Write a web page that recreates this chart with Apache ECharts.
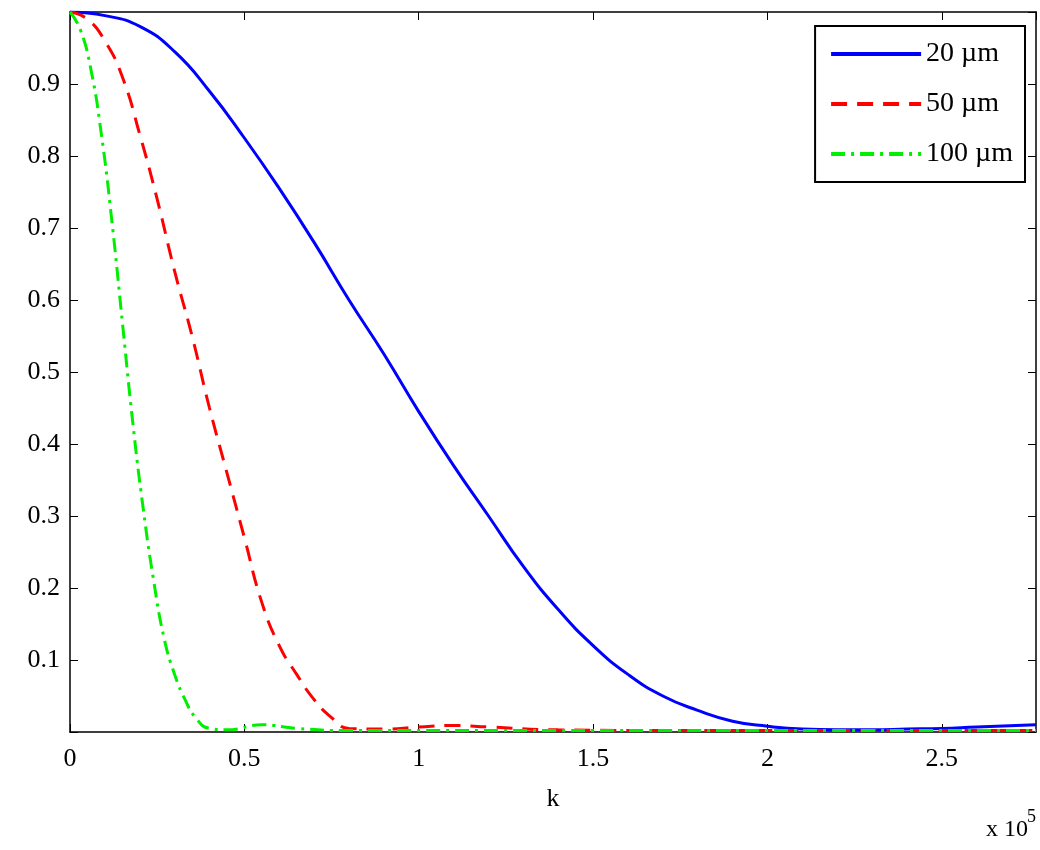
<!DOCTYPE html>
<html><head><meta charset="utf-8">
<script src="https://cdn.jsdelivr.net/npm/echarts@6/dist/echarts.min.js"></script>
<style>html,body{margin:0;background:#fff}#c{width:1040px;height:850px}</style>
</head><body><div id="c"></div>
<script>
const seriesNames = ['20 µm', '50 µm', '100 µm'];
const blue = [[0,1],[0.1,0.995],[0.2,0.98],[0.3,0.945],[0.4,0.89],[0.5,0.825],[0.6,0.755],[0.7,0.68],[0.8,0.6],[0.9,0.525],[1.0,0.445],[1.1,0.37],[1.2,0.3],[1.3,0.23],[1.4,0.17],[1.5,0.12],[1.6,0.08],[1.7,0.05],[1.8,0.03],[1.9,0.015],[2.0,0.008],[2.1,0.004],[2.2,0.003],[2.3,0.003],[2.4,0.004],[2.5,0.005],[2.6,0.007],[2.77,0.01]];
const red = [[0,1],[0.05,0.99],[0.1,0.96],[0.15,0.91],[0.2,0.83],[0.25,0.74],[0.3,0.64],[0.35,0.55],[0.4,0.45],[0.45,0.36],[0.5,0.27],[0.55,0.18],[0.6,0.12],[0.65,0.08],[0.7,0.045],[0.75,0.02],[0.8,0.005],[0.9,0.004],[1.0,0.007],[1.1,0.009],[1.2,0.007],[1.4,0.003],[1.8,0.002],[2.77,0.002]];
const green = [[0,1],[0.03,0.975],[0.06,0.92],[0.09,0.83],[0.12,0.71],[0.15,0.57],[0.18,0.43],[0.21,0.31],[0.24,0.21],[0.27,0.13],[0.3,0.08],[0.33,0.045],[0.36,0.02],[0.4,0.005],[0.45,0.003],[0.55,0.01],[0.65,0.005],[0.8,0.002],[2.77,0.002]];
const font = 'Liberation Serif';
const ax = {color:'#000', fontSize:26, fontFamily:font};
const line = {onZero:false,lineStyle:{color:'#000',width:1.5}};
const tick = {inside:true,length:8,lineStyle:{color:'#000'}};
const c = echarts.init(document.getElementById('c'));
const mk = (name,data,color,type)=>({name,type:'line',data,smooth:true,symbol:'none',lineStyle:{color,width:3,type},itemStyle:{color}});
c.setOption({
 animation:false,
 grid:{left:70,right:4,top:12,bottom:118},
 legend:{orient:'vertical',right:15,top:26,width:230,padding:[14,12,14,14],itemGap:22,itemWidth:90,itemHeight:14,
   itemStyle:{opacity:0},lineStyle:{width:4},
   borderColor:'#000',borderWidth:2,backgroundColor:'#fff',textStyle:{fontSize:28,fontFamily:font,color:'#000'},data:seriesNames},
 xAxis:[{type:'value',min:0,max:2.77,interval:0.5,name:'k',nameLocation:'middle',nameGap:54,nameTextStyle:ax,
   axisLine:line,axisTick:tick,
   axisLabel:Object.assign({margin:14,showMaxLabel:false,formatter:v=>String(v)},ax),splitLine:{show:false}},
  {type:'value',position:'top',min:0,max:2.77,interval:0.5,axisLine:line,axisTick:tick,axisLabel:{show:false},splitLine:{show:false}}],
 yAxis:[{type:'value',min:0,max:1,interval:0.1,axisLine:Object.assign({show:true},line),axisTick:tick,
   axisLabel:Object.assign({margin:10,formatter:v=>(v<=0.001||v>=0.999)?'':v.toFixed(1)},ax),splitLine:{show:false}},
  {type:'value',position:'right',min:0,max:1,interval:0.1,axisLine:Object.assign({show:true},line),axisTick:tick,axisLabel:{show:false},splitLine:{show:false}}],
 graphic:[{type:'text',right:12,top:818,style:{text:'x 10',font:'24px '+font,fill:'#000'}},
  {type:'text',right:4,top:808,style:{text:'5',font:'18px '+font,fill:'#000'}}],
 series:[mk(seriesNames[0],blue,'#0000ff','solid'),mk(seriesNames[1],red,'#ff0000',[16,10]),mk(seriesNames[2],green,'#00ee00',[14,6,3,6])]
});
</script></body></html>
